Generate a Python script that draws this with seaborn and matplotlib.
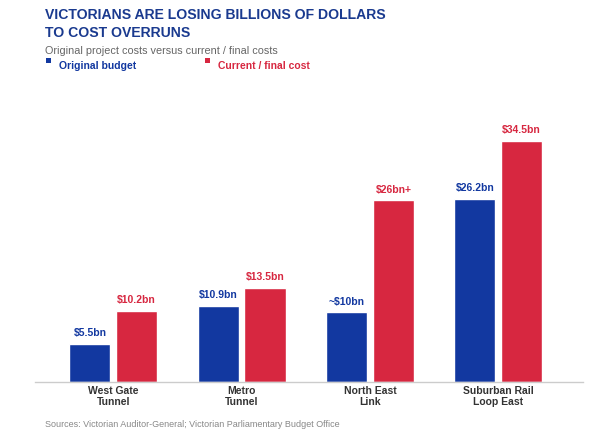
import pandas as pd
import matplotlib.pyplot as plt
import seaborn as sns
from matplotlib.patches import Rectangle

# ---------------------------
# Data
# ---------------------------
projects = ["West Gate\nTunnel", "Metro\nTunnel", "North East\nLink", "Suburban Rail\nLoop East"]
original_budget = [5.5, 10.9, 10.0, 26.2]
final_cost = [10.2, 13.5, 26.0, 34.5]
original_labels = ["$5.5bn", "$10.9bn", "~$10bn", "$26.2bn"]
final_labels = ["$10.2bn", "$13.5bn", "$26bn+", "$34.5bn"]
series = ["Original budget", "Current / final cost"]

BLUE = "#1238a0"
RED = "#d72740"
TITLE = "#1a3a8f"

df = pd.DataFrame({
    "project": projects * 2,
    "cost": original_budget + final_cost,
    "series": [series[0]] * len(projects) + [series[1]] * len(projects),
})

# ---------------------------
# Plot
# ---------------------------
sns.set_theme(style="white")
plt.rcParams["font.family"] = ["Liberation Sans", "DejaVu Sans"]

fig = plt.figure(figsize=(6, 4.4), dpi=100)
ax = fig.add_axes([35 / 600, 58 / 440, 548 / 600, 292 / 440])

sns.barplot(data=df, x="project", y="cost", hue="series", palette=[BLUE, RED],
            width=0.73, gap=0.12, saturation=1, legend=False, ax=ax)

for container, labels, color in zip(ax.containers, [original_labels, final_labels], [BLUE, RED]):
    ax.bar_label(container, labels=labels, padding=4, color=color,
                 fontsize=7.5, fontweight="bold")

ax.set_xlim(-0.61, 3.66)
ax.set_ylim(0, 41.8)
ax.set_xlabel("")
ax.set_ylabel("")
ax.set_yticks([])
for side in ["top", "right", "left"]:
    ax.spines[side].set_visible(False)
ax.spines["bottom"].set_color("#cccccc")
ax.spines["bottom"].set_linewidth(1)
ax.tick_params(axis="x", length=0, pad=3, labelsize=7.5, labelcolor="#333333")
for lbl in ax.get_xticklabels():
    lbl.set_fontweight("bold")
    lbl.set_linespacing(1.05)

# ---------------------------
# Titles, legend, source
# ---------------------------
def fy(px):
    return 1 - px / 440

fig.text(45 / 600, fy(19), "VICTORIANS ARE LOSING BILLIONS OF DOLLARS", color=TITLE,
         fontsize=10.1, fontweight="bold", va="baseline")
fig.text(45 / 600, fy(37), "TO COST OVERRUNS", color=TITLE,
         fontsize=10.1, fontweight="bold", va="baseline")
fig.text(45 / 600, fy(54), "Original project costs versus current / final costs",
         color="#666666", fontsize=7.8, va="baseline")

for x_box, x_txt, name, color in [(46, 59, series[0], BLUE), (205, 218, series[1], RED)]:
    fig.add_artist(Rectangle((x_box / 600, fy(63)), 5 / 600, 5 / 440,
                             transform=fig.transFigure, color=color, lw=0))
    fig.text(x_txt / 600, fy(69), name, color=color, fontsize=7.5,
             fontweight="bold", va="baseline")

fig.text(45 / 600, fy(427), "Sources: Victorian Auditor-General; Victorian Parliamentary Budget Office",
         color="#888888", fontsize=6.5, va="baseline")

fig.savefig("out.png", dpi=100)
